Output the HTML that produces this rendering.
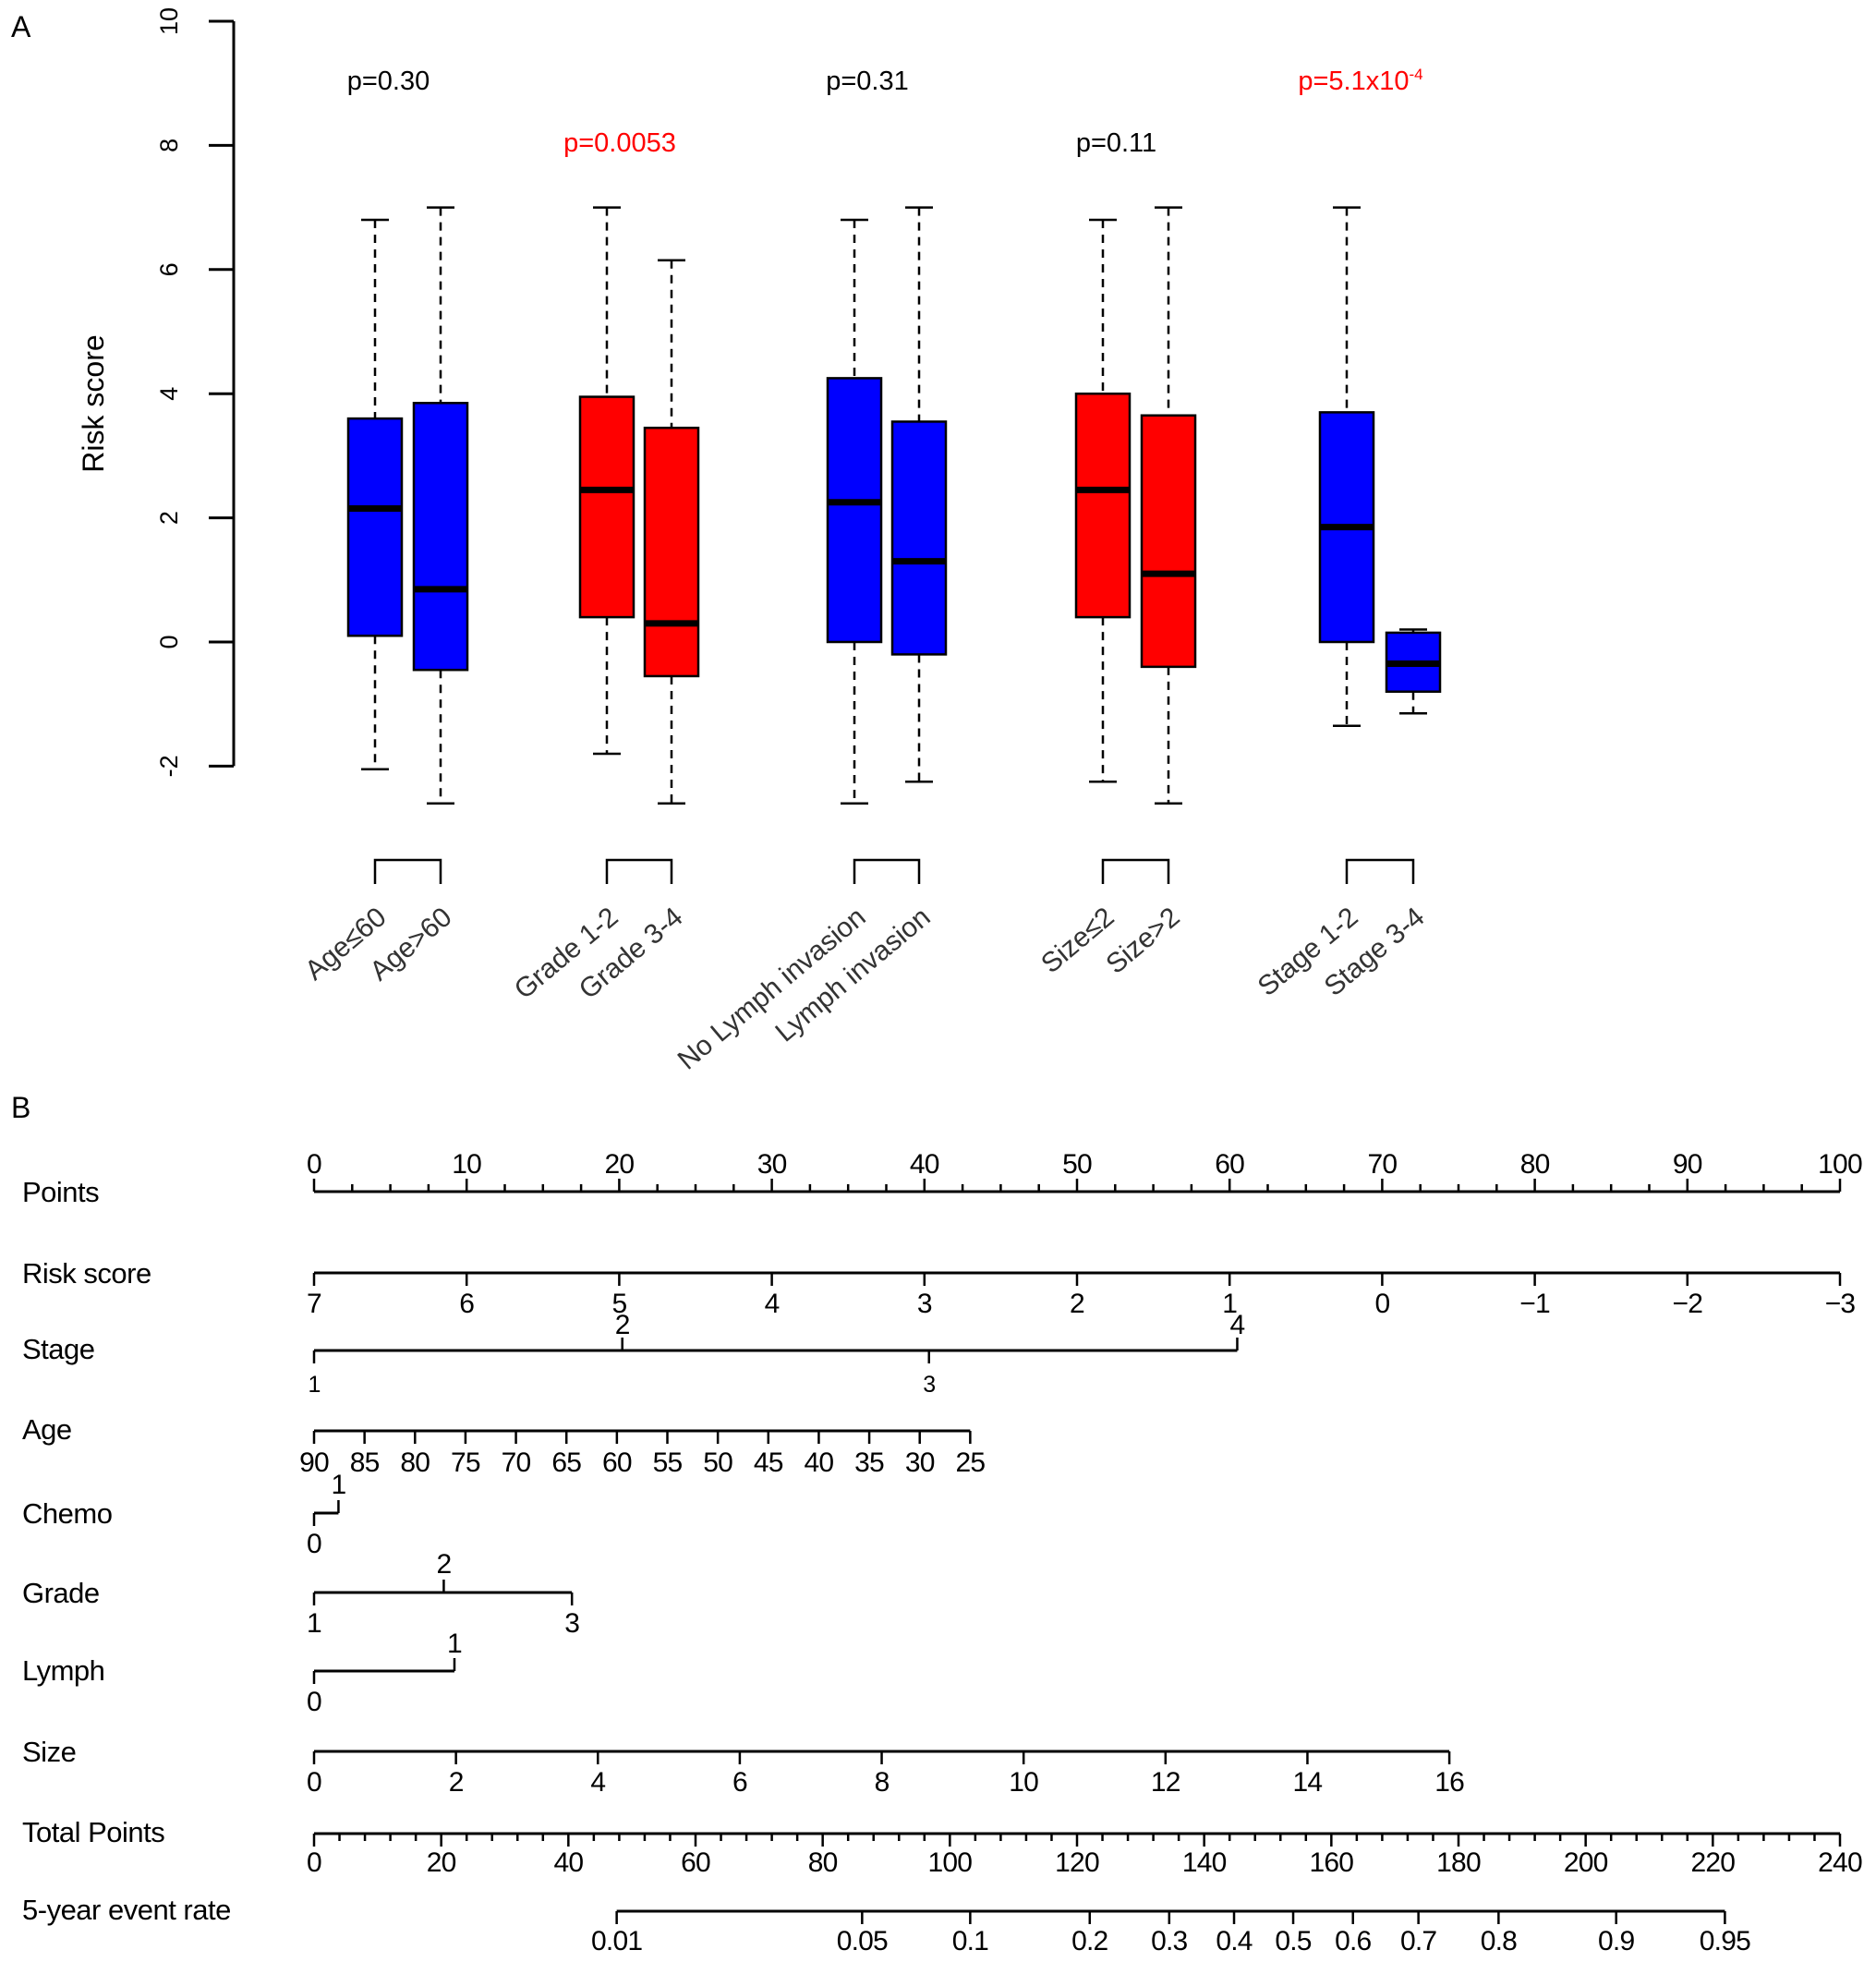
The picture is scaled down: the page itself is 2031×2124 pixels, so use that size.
<!DOCTYPE html>
<html><head><meta charset="utf-8">
<style>
html,body{margin:0;padding:0;background:#fff;}
svg{display:block;font-family:"Liberation Sans",Arial,sans-serif;}
</style></head>
<body>
<svg id="fig" width="2031" height="2124" viewBox="0 0 2031 2124" xmlns="http://www.w3.org/2000/svg">
<text x="12" y="40" font-size="32">A</text>
<text x="12" y="1210" font-size="32">B</text>
<g id="pa"></g>
<g id="pb"></g>
</svg>
<script>
// ---------- Panel A data ----------
const groupNames = ["Age≤60","Age>60","Grade 1-2","Grade 3-4","No Lymph invasion","Lymph invasion","Size≤2","Size>2","Stage 1-2","Stage 3-4"];
const whiskerHigh = [6.8,7.0,7.0,6.15,6.8,7.0,6.8,7.0,7.0,0.2];
const q3Values    = [3.6,3.85,3.95,3.45,4.25,3.55,4.0,3.65,3.7,0.15];
const medians     = [2.15,0.85,2.45,0.3,2.25,1.3,2.45,1.1,1.85,-0.35];
const q1Values    = [0.1,-0.45,0.4,-0.55,0.0,-0.2,0.4,-0.4,0.0,-0.8];
const whiskerLow  = [-2.05,-2.6,-1.8,-2.6,-2.6,-2.25,-2.25,-2.6,-1.35,-1.15];
const pLabels = ["p=0.30","p=0.0053","p=0.31","p=0.11","p=5.1x10"];
const pLevels = [9.05,8.05,9.05,8.05,9.05];
const pRed = [false,true,false,false,true];
const yTicks = [-2,0,2,4,6,8,10];

// ---------- Panel B data ----------
const pointTicks = [0,10,20,30,40,50,60,70,80,90,100];
const riskVals = [7,6,5,4,3,2,1,0,-1,-2,-3];
const stageVals = [1,2,3,4];
const stagePts = [0,20.2,40.3,60.5];
const stageUp = [false,true,false,true];
const ageVals = [90,85,80,75,70,65,60,55,50,45,40,35,30,25];
const ageMaxPts = 43;
const chemoVals = [0,1];
const chemoPts = [0,1.6];
const gradeVals = [1,2,3];
const gradePts = [0,8.5,16.9];
const gradeUp = [false,true,false];
const lymphVals = [0,1];
const lymphPts = [0,9.2];
const sizeVals = [0,2,4,6,8,10,12,14,16];
const sizeMaxPts = 74.4;
const totalTicks = [0,20,40,60,80,100,120,140,160,180,200,220,240];
const rateLabels = ["0.01","0.05","0.1","0.2","0.3","0.4","0.5","0.6","0.7","0.8","0.9","0.95"];
const ratePts = [47.6,86.2,103.2,122.0,134.5,144.7,154.0,163.4,173.7,186.3,204.8,221.9];

const NS="http://www.w3.org/2000/svg";
function mk(parent,tag,attrs,text){const e=document.createElementNS(NS,tag);for(const k in attrs)e.setAttribute(k,attrs[k]);if(text!==undefined)e.textContent=text;parent.appendChild(e);return e;}

// ---------- Panel A ----------
const pa=document.getElementById('pa');
const yA=v=>695-v*67.2;
const boxX=[406,477,657,727,925,995,1194,1265,1458,1530];
const colors=["#0000ff","#0000ff","#ff0000","#ff0000","#0000ff","#0000ff","#ff0000","#ff0000","#0000ff","#0000ff"];
let ax=mk(pa,'line',{x1:253,y1:yA(-2),x2:253,y2:yA(10),stroke:'#000','stroke-width':3});


yTicks.forEach(t=>{
  let l=mk(pa,'line',{x1:226,y1:yA(t),x2:253,y2:yA(t),stroke:'#000','stroke-width':3});
  
  
  let tx=mk(pa,'text',{x:183,y:yA(t),'font-size':27,'text-anchor':'middle',transform:`rotate(-90 183 ${yA(t)})`,dy:9},String(t));
  
  
});
let yt=mk(pa,'text',{x:112,y:437,'font-size':32,'text-anchor':'middle',transform:'rotate(-90 112 437)'},'Risk score');


for(let i=0;i<groupNames.length;i++){
  const cx=boxX[i],hw=29;
  const g=mk(pa,'g',{});
  
  
  mk(g,'line',{x1:cx,y1:yA(whiskerHigh[i]),x2:cx,y2:yA(q3Values[i]),stroke:'#000','stroke-width':2.5,'stroke-dasharray':'9,7'});
  mk(g,'line',{x1:cx,y1:yA(q1Values[i]),x2:cx,y2:yA(whiskerLow[i]),stroke:'#000','stroke-width':2.5,'stroke-dasharray':'9,7'});
  mk(g,'line',{x1:cx-15,y1:yA(whiskerHigh[i]),x2:cx+15,y2:yA(whiskerHigh[i]),stroke:'#000','stroke-width':2.5});
  mk(g,'line',{x1:cx-15,y1:yA(whiskerLow[i]),x2:cx+15,y2:yA(whiskerLow[i]),stroke:'#000','stroke-width':2.5});
  mk(g,'rect',{x:cx-hw,y:yA(q3Values[i]),width:hw*2,height:yA(q1Values[i])-yA(q3Values[i]),fill:colors[i],stroke:'#000','stroke-width':2.5});
  mk(g,'line',{x1:cx-hw,y1:yA(medians[i]),x2:cx+hw,y2:yA(medians[i]),stroke:'#000','stroke-width':7});
  const lx=cx+14,ly=996;
  let lab=mk(pa,'text',{x:lx,y:ly,'font-size':30,'text-anchor':'end',fill:'#333',transform:`rotate(-40 ${lx} ${ly})`},groupNames[i]);
  
  
}
for(let k=0;k<5;k++){
  const a=boxX[2*k],b=boxX[2*k+1];
  let br=mk(pa,'path',{d:`M${a} 957 V931 H${b} V957`,fill:'none',stroke:'#000','stroke-width':2.5});
  
  
  const cx=(a+b)/2-21;
  let pt=mk(pa,'text',{x:cx,y:yA(pLevels[k])+10,'font-size':29,'text-anchor':'middle',fill:pRed[k]?'#ff0000':'#000'},pLabels[k]);
  
  
  if(k===4){mk(pt,'tspan',{'font-size':17,dy:-11},'-4');}
}

// ---------- Panel B ----------
const pb=document.getElementById('pb');
const X0=340,X1=1992;
const xP=p=>X0+(X1-X0)*p/100;
const FS=30;
function rowLabel(name,y){let t=mk(pb,'text',{x:24,y:y+11,'font-size':31,'letter-spacing':-0.5},name);return t;}
function hline(x1,x2,y){let l=mk(pb,'line',{x1:x1,y1:y,x2:x2,y2:y,stroke:'#000','stroke-width':3});return l;}
function tick(x,y,len){return mk(pb,'line',{x1:x,y1:y,x2:x,y2:y+len,stroke:'#000','stroke-width':2.5});}
function lab(x,y,s){let t=mk(pb,'text',{x:x,y:y,'font-size':FS,'text-anchor':'middle','letter-spacing':-0.8},s);return t;}

// Points
rowLabel('Points',1290);
hline(X0,X1,1290);
for(let v=0;v<=100;v+=2.5){tick(xP(v),1290,(v%10===0)?-14:-8);}
pointTicks.forEach(v=>lab(xP(v),1270,String(v)));
// Risk score
rowLabel('Risk score',1378);
hline(X0,X1,1378);
const xRisk=r=>xP((7-r)*10);
riskVals.forEach(r=>{tick(xRisk(r),1378,14);lab(xRisk(r),1421,r<0?'\u2212'+(-r):String(r));});
// Stage
rowLabel('Stage',1460);
hline(X0,xP(stagePts[3]),1462);
stageVals.forEach((s,i)=>{const x=xP(stagePts[i]);if(stageUp[i]){tick(x,1462,-14);lab(x,1444,String(s));}else{tick(x,1462,14);const t=lab(x,1507,String(s));t.setAttribute('font-size',25);}});
// Age
rowLabel('Age',1547);
const xAge=a=>xP((90-a)/65*ageMaxPts);
hline(X0,xAge(25),1549);
ageVals.forEach(a=>{tick(xAge(a),1549,14);lab(xAge(a),1593,String(a));});
// Chemo
rowLabel('Chemo',1638);
hline(X0,xP(chemoPts[1]),1638);
tick(xP(chemoPts[0]),1638,14);lab(xP(chemoPts[0]),1681,String(chemoVals[0]));
tick(xP(chemoPts[1]),1638,-14);lab(xP(chemoPts[1]),1617,String(chemoVals[1]));
// Grade
rowLabel('Grade',1724);
hline(X0,xP(gradePts[2]),1724);
gradeVals.forEach((g,i)=>{const x=xP(gradePts[i]);if(gradeUp[i]){tick(x,1724,-14);lab(x,1703,String(g));}else{tick(x,1724,14);lab(x,1767,String(g));}});
// Lymph
rowLabel('Lymph',1808);
hline(X0,xP(lymphPts[1]),1809);
tick(xP(lymphPts[0]),1809,14);lab(xP(lymphPts[0]),1852,String(lymphVals[0]));
tick(xP(lymphPts[1]),1809,-14);lab(xP(lymphPts[1]),1789,String(lymphVals[1]));
// Size
rowLabel('Size',1896);
const xSize=s=>xP(s/16*sizeMaxPts);
hline(X0,xSize(16),1896);
sizeVals.forEach(s=>{tick(xSize(s),1896,14);lab(xSize(s),1939,String(s));});
// Total points
rowLabel('Total Points',1983);
const xT=t=>X0+(X1-X0)*t/240;
hline(X0,X1,1985);
for(let v=0;v<=240;v+=4){tick(xT(v),1985,(v%20===0)?14:8);}
totalTicks.forEach(t=>lab(xT(t),2026,String(t)));
// Event rate
rowLabel('5-year event rate',2067);
hline(xT(ratePts[0]),xT(ratePts[ratePts.length-1]),2069);
rateLabels.forEach((r,i)=>{tick(xT(ratePts[i]),2069,14);lab(xT(ratePts[i]),2111,r);});
</script>
</body></html>
